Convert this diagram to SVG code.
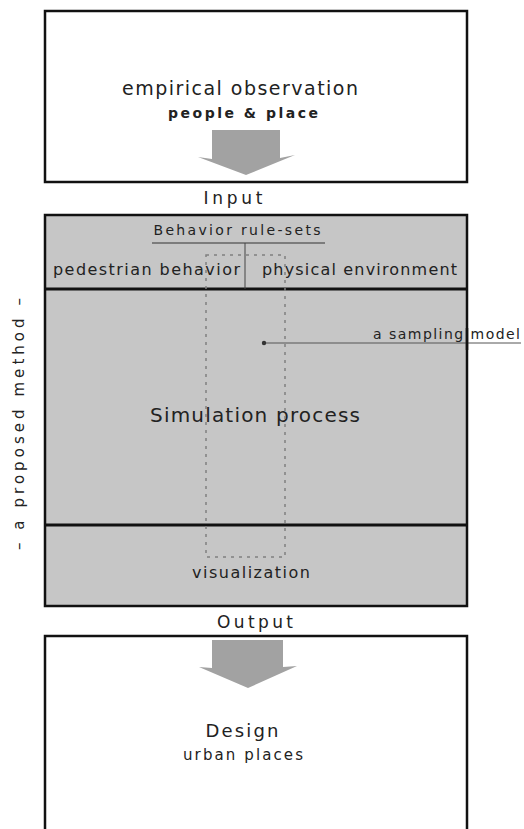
<svg xmlns="http://www.w3.org/2000/svg" width="524" height="829" viewBox="0 0 524 829">
<style>
text{font-family:"DejaVu Sans","Liberation Sans",sans-serif;fill:#222;}
.box{stroke:#111;stroke-width:2.5;}
.div{stroke:#111;stroke-width:3;}
.bigarrow{fill:#a2a2a2;}
.dash{fill:none;stroke:#808080;stroke-width:1.5;stroke-dasharray:3 5;}
</style>
<rect x="0" y="0" width="524" height="829" fill="#fff"/>
<g id="observation">
<rect class="box" x="45" y="11" width="422" height="171" fill="#fff"/>
<text x="240" y="95" text-anchor="middle" font-size="19" textLength="236" lengthAdjust="spacing">empirical observation</text>
<text x="243" y="118" text-anchor="middle" font-size="14" font-weight="bold" textLength="150" lengthAdjust="spacing">people &amp; place</text>
</g>
<g id="method">
<rect class="box" x="45" y="215" width="422" height="391" fill="#c6c6c6"/>
<line class="div" x1="45" y1="289" x2="467" y2="289"/>
<line class="div" x1="45" y1="525" x2="467" y2="525"/>
<text x="237" y="235" text-anchor="middle" font-size="14" textLength="167" lengthAdjust="spacing">Behavior rule-sets</text>
<line x1="152" y1="243" x2="325" y2="243" stroke="#333" stroke-width="1"/>
<line x1="245" y1="243" x2="245" y2="289" stroke="#444" stroke-width="1"/>
<text x="53" y="275" font-size="16" textLength="187" lengthAdjust="spacing">pedestrian behavior</text>
<text x="262" y="275" font-size="16" textLength="195" lengthAdjust="spacing">physical environment</text>
<text x="255" y="422" text-anchor="middle" font-size="20" textLength="210" lengthAdjust="spacing">Simulation process</text>
<text x="251" y="578" text-anchor="middle" font-size="16" textLength="118" lengthAdjust="spacing">visualization</text>
</g>
<g id="io-labels">
<text x="233" y="204" text-anchor="middle" font-size="17" textLength="59" lengthAdjust="spacing">Input</text>
<text x="255" y="628" text-anchor="middle" font-size="17" textLength="76" lengthAdjust="spacing">Output</text>
</g>
<g id="side-label">
<text x="0" y="0" font-size="15" text-anchor="middle" transform="translate(24,424) rotate(-90)" textLength="252" lengthAdjust="spacing">– a proposed method –</text>
</g>
<g id="design">
<path class="box" d="M45,829 V636 H467 V829" fill="#fff"/>
<text x="242" y="737" text-anchor="middle" font-size="18" textLength="73" lengthAdjust="spacing">Design</text>
<text x="243" y="760" text-anchor="middle" font-size="15" textLength="120" lengthAdjust="spacing">urban places</text>
</g>
<g id="connectors">
<polygon class="bigarrow" points="212,130 280,130 280,158 295,155 246,175 198,157 212,159"/>
<polygon class="bigarrow" points="212,640 283,640 283,667 297,666 248,688 199,667 212,668"/>
<rect class="dash" x="206" y="255" width="79" height="302"/>
<line x1="264" y1="343" x2="521" y2="343" stroke="#555" stroke-width="1"/>
<circle cx="264" cy="343" r="2.2" fill="#333"/>
<text x="373" y="339" font-size="14" fill="#333" textLength="147" lengthAdjust="spacing">a sampling model</text>
<line x1="467" y1="328" x2="467" y2="350" stroke="#111" stroke-width="2.5"/>
</g>
</svg>
